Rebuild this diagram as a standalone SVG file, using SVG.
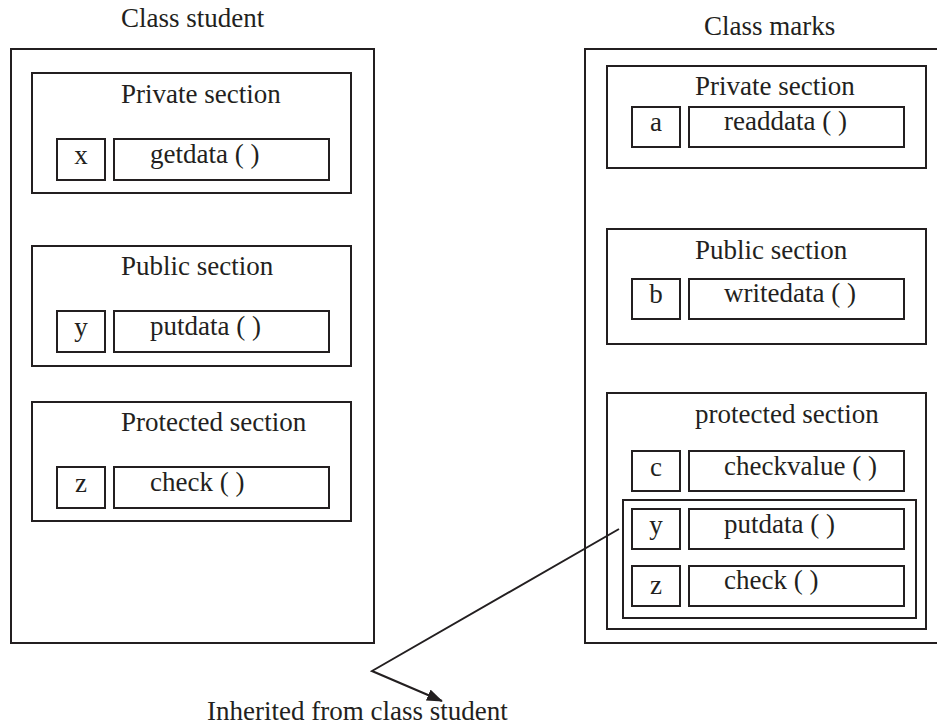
<svg xmlns="http://www.w3.org/2000/svg" width="937" height="727" viewBox="0 0 937 727">
<style>
rect{fill:none;stroke:#231f20;stroke-width:2}
text{font-family:"Liberation Serif","Times New Roman",serif;font-size:27px;fill:#231f20}
.c{text-anchor:middle}
.ln{fill:none;stroke:#231f20;stroke-width:2}
</style>
<defs>
<marker id="ah" markerWidth="16" markerHeight="12" refX="15" refY="6" orient="auto" markerUnits="userSpaceOnUse" viewBox="0 0 16 12">
<path d="M0,0 L16,6 L0,12 Z" fill="#231f20"/>
</marker>
</defs>
<rect width="937" height="727" style="fill:#fff;stroke:none"/>

<g id="student">
<text x="121" y="27">Class student</text>
<rect x="11" y="49" width="363" height="594"/>
<g id="student-private">
<rect x="32" y="73" width="319" height="120"/>
<text x="121" y="103">Private section</text>
<rect x="57" y="139" width="48" height="41"/>
<text x="81" y="164" class="c">x</text>
<rect x="114" y="139" width="215" height="41"/>
<text x="150" y="163">getdata ( )</text>
</g>
<g id="student-public">
<rect x="32" y="246" width="319" height="120"/>
<text x="121" y="275">Public section</text>
<rect x="57" y="311" width="48" height="41"/>
<text x="81" y="336" class="c">y</text>
<rect x="114" y="311" width="215" height="41"/>
<text x="150" y="335">putdata ( )</text>
</g>
<g id="student-protected">
<rect x="32" y="402" width="319" height="119"/>
<text x="121" y="431">Protected section</text>
<rect x="57" y="467" width="48" height="41"/>
<text x="81" y="492" class="c">z</text>
<rect x="114" y="467" width="215" height="41"/>
<text x="150" y="491">check ( )</text>
</g>
</g>

<g id="marks">
<text x="704" y="35">Class marks</text>
<rect x="585" y="49" width="370" height="594"/>
<g id="marks-private">
<rect x="607" y="66" width="319" height="102"/>
<text x="695" y="95">Private section</text>
<rect x="632" y="107" width="48" height="40"/>
<text x="656" y="131" class="c">a</text>
<rect x="689" y="107" width="215" height="40"/>
<text x="724" y="130">readdata ( )</text>
</g>
<g id="marks-public">
<rect x="607" y="229" width="319" height="115"/>
<text x="695" y="259">Public section</text>
<rect x="632" y="279" width="48" height="40"/>
<text x="656" y="303" class="c">b</text>
<rect x="689" y="279" width="215" height="40"/>
<text x="724" y="302">writedata ( )</text>
</g>
<g id="marks-protected">
<rect x="607" y="393" width="319" height="236"/>
<text x="695" y="423">protected section</text>
<rect x="632" y="451" width="48" height="40"/>
<text x="656" y="476" class="c">c</text>
<rect x="689" y="451" width="215" height="40"/>
<text x="724" y="475">checkvalue ( )</text>
<g id="marks-inherited">
<rect x="623" y="500" width="293" height="118"/>
<rect x="632" y="509" width="48" height="40"/>
<text x="656" y="534" class="c">y</text>
<rect x="689" y="509" width="215" height="40"/>
<text x="724" y="533">putdata ( )</text>
<rect x="632" y="566" width="48" height="40"/>
<text x="656" y="594" class="c">z</text>
<rect x="689" y="566" width="215" height="40"/>
<text x="724" y="589">check ( )</text>
</g>
</g>
</g>

<g id="connectors">
<polyline class="ln" points="619,529 372,671 442,701" marker-end="url(#ah)"/>
</g>
<text x="207" y="720">Inherited from class student</text>
</svg>
